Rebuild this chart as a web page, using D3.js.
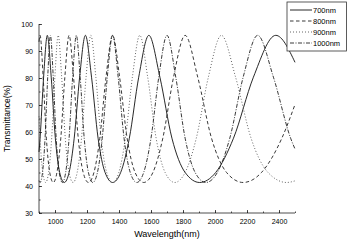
<!DOCTYPE html>
<html>
<head>
<meta charset="utf-8">
<script src="https://cdn.jsdelivr.net/npm/d3@7"></script>
<style>
  body { margin: 0; background: #fff; }
  text { font-family: "Liberation Sans", Arial, sans-serif; fill: #000; }
</style>
</head>
<body>
<div id="chart"></div>
<script>
// film thicknesses shown in the legend
const seriesNames = ['700nm', '800nm', '900nm', '1000nm'];

// wavelength (nm) / transmittance (%)
const wl700 = [900, 906.7, 928.8, 952.0, 976.4, 1002.1, 1029.2, 1057.8, 1088.0, 1120.0, 1153.9, 1190.0, 1228.4, 1269.3, 1313.1, 1360.0, 1410.4, 1464.6, 1523.2, 1586.7, 1655.7, 1730.9, 1813.3, 1904.0, 2004.2, 2115.6, 2240.0, 2380.0, 2500];
const tr700 = [52.6, 57.7, 80.3, 95.8, 80.3, 57.7, 45.0, 41.3, 45.0, 57.7, 80.3, 95.8, 80.3, 57.7, 45.0, 41.3, 45.0, 57.7, 80.3, 95.8, 80.3, 57.7, 45.0, 41.3, 45.0, 57.7, 80.3, 95.8, 85.8];

const wl800 = [900, 906.7, 926.0, 946.1, 967.1, 989.1, 1012.1, 1036.2, 1061.5, 1088.0, 1115.9, 1145.3, 1176.2, 1208.9, 1243.4, 1280.0, 1318.8, 1360.0, 1403.9, 1450.7, 1500.7, 1554.3, 1611.9, 1673.8, 1740.8, 1813.3, 1892.2, 1978.2, 2072.4, 2176.0, 2290.5, 2417.8, 2500];
const tr800 = [93.4, 95.8, 80.3, 57.7, 45.0, 41.3, 45.0, 57.7, 80.3, 95.8, 80.3, 57.7, 45.0, 41.3, 45.0, 57.7, 80.3, 95.8, 80.3, 57.7, 45.0, 41.3, 45.0, 57.7, 80.3, 95.8, 80.3, 57.7, 45.0, 41.3, 45.0, 57.7, 70.2];

const wl900 = [900, 906.7, 923.8, 941.5, 960.0, 979.2, 999.2, 1020.0, 1041.7, 1064.3, 1088.0, 1112.7, 1138.6, 1165.7, 1194.1, 1224.0, 1255.4, 1288.4, 1323.2, 1360.0, 1398.9, 1440.0, 1483.6, 1530.0, 1579.4, 1632.0, 1688.3, 1748.6, 1813.3, 1883.1, 1958.4, 2040.0, 2128.7, 2225.5, 2331.4, 2448.0, 2500];
const tr900 = [65.8, 57.7, 45.0, 41.3, 45.0, 57.7, 80.3, 95.8, 80.3, 57.7, 45.0, 41.3, 45.0, 57.7, 80.3, 95.8, 80.3, 57.7, 45.0, 41.3, 45.0, 57.7, 80.3, 95.8, 80.3, 57.7, 45.0, 41.3, 45.0, 57.7, 80.3, 95.8, 80.3, 57.7, 45.0, 41.3, 41.9];

const wl1000 = [900, 906.7, 922.0, 937.9, 954.4, 971.4, 989.1, 1007.4, 1026.4, 1046.2, 1066.7, 1088.0, 1110.2, 1133.3, 1157.4, 1182.6, 1208.9, 1236.4, 1265.1, 1295.2, 1326.8, 1360.0, 1394.9, 1431.6, 1470.3, 1511.1, 1554.3, 1600.0, 1648.5, 1700.0, 1754.8, 1813.3, 1875.9, 1942.9, 2014.8, 2092.3, 2176.0, 2266.7, 2365.2, 2472.7, 2500];
const tr1000 = [42.0, 41.3, 45.0, 57.7, 80.3, 95.8, 80.3, 57.7, 45.0, 41.3, 45.0, 57.7, 80.3, 95.8, 80.3, 57.7, 45.0, 41.3, 45.0, 57.7, 80.3, 95.8, 80.3, 57.7, 45.0, 41.3, 45.0, 57.7, 80.3, 95.8, 80.3, 57.7, 45.0, 41.3, 45.0, 57.7, 80.3, 95.8, 80.3, 57.7, 53.7];

const xTicks = [1000, 1200, 1400, 1600, 1800, 2000, 2200, 2400];
const yTicks = [30, 40, 50, 60, 70, 80, 90, 100];

const config = {
  width: 347,
  height: 242,
  margin: {top: 24, right: 52, bottom: 29, left: 39}
};

const innerW = config.width - config.margin.left - config.margin.right;
const innerH = config.height - config.margin.top - config.margin.bottom;

const svg = d3.select('#chart').append('svg')
    .attr('width', config.width)
    .attr('height', config.height);

const chart = svg.append('g')
    .attr('transform', `translate(${config.margin.left},${config.margin.top})`);

const xScale = d3.scaleLinear().domain([900, 2500]).range([0, innerW]);
const yScale = d3.scaleLinear().domain([30, 100]).range([innerH, 0]);

// minor ticks (no labels), pointing inward
chart.append('g')
    .attr('class', 'axis minor')
    .attr('transform', `translate(0,${innerH})`)
    .call(d3.axisBottom(xScale).tickValues(d3.range(900, 2501, 100)).tickSize(-1.5).tickFormat(''));
chart.append('g')
    .attr('class', 'axis minor')
    .call(d3.axisLeft(yScale).tickValues(d3.range(30, 101, 5)).tickSize(-1.5).tickFormat(''));
chart.selectAll('.minor .domain').remove();

// major ticks
const xAxisG = chart.append('g')
    .attr('class', 'axis')
    .attr('transform', `translate(0,${innerH})`)
    .call(d3.axisBottom(xScale).tickValues(xTicks).tickSize(-3).tickPadding(6).tickFormat(d3.format('d')));
const yAxisG = chart.append('g')
    .attr('class', 'axis')
    .call(d3.axisLeft(yScale).tickValues(yTicks).tickSize(-3).tickPadding(6).tickFormat(d3.format('d')));

svg.selectAll('.axis path, .axis line').attr('stroke', '#222').attr('stroke-width', 0.8);
xAxisG.select('.domain').attr('d', `M0,0H${innerW}`);
yAxisG.select('.domain').attr('d', `M0,${innerH}V0`);
svg.selectAll('.axis text').attr('font-size', 7).attr('font-family', '"Liberation Sans", Arial, sans-serif');
xAxisG.selectAll('text').attr('dy', '0.71em');

// axis titles
svg.append('text')
    .attr('x', config.margin.left + innerW / 2)
    .attr('y', 237)
    .attr('text-anchor', 'middle')
    .attr('font-size', 9)
    .text('Wavelength(nm)');

svg.append('text')
    .attr('transform', `translate(10,${config.margin.top + innerH / 2}) rotate(-90)`)
    .attr('text-anchor', 'middle')
    .attr('font-size', 8.5)
    .text('Transmittance(%)');

// curves
const series = [
  {name: seriesNames[0], wl: wl700, tr: tr700, dash: null, color: '#111'},
  {name: seriesNames[1], wl: wl800, tr: tr800, dash: '3.5,2.5', color: '#222'},
  {name: seriesNames[2], wl: wl900, tr: tr900, dash: '1,2', color: '#555'},
  {name: seriesNames[3], wl: wl1000, tr: tr1000, dash: '4,1.5,1,1.5', color: '#222'}
];

const line = d3.line()
    .x(d => xScale(d[0]))
    .y(d => yScale(d[1]))
    .curve(d3.curveMonotoneX);

chart.selectAll('.curve')
    .data(series)
  .join('path')
    .attr('class', 'curve')
    .attr('fill', 'none')
    .attr('stroke', d => d.color)
    .attr('stroke-width', 0.9)
    .attr('stroke-dasharray', d => d.dash)
    .attr('d', d => line(d.wl.map((w, i) => [w, d.tr[i]])));

// legend
const legend = svg.append('g')
    .attr('transform', 'translate(287,2)');

legend.append('rect')
    .attr('width', 59.5)
    .attr('height', 49)
    .attr('fill', '#fff')
    .attr('stroke', '#333')
    .attr('stroke-width', 0.8);

const legendItem = legend.selectAll('.legend-item')
    .data(series)
  .join('g')
    .attr('class', 'legend-item')
    .attr('transform', (d, i) => `translate(0,${8 + i * 11})`);

legendItem.append('line')
    .attr('x1', 3).attr('x2', 25)
    .attr('stroke', d => d.color)
    .attr('stroke-width', 0.9)
    .attr('stroke-dasharray', d => d.dash);

legendItem.append('text')
    .attr('x', 26)
    .attr('dy', '0.35em')
    .attr('font-size', 7.5)
    .text(d => d.name);
</script>
</body>
</html>
